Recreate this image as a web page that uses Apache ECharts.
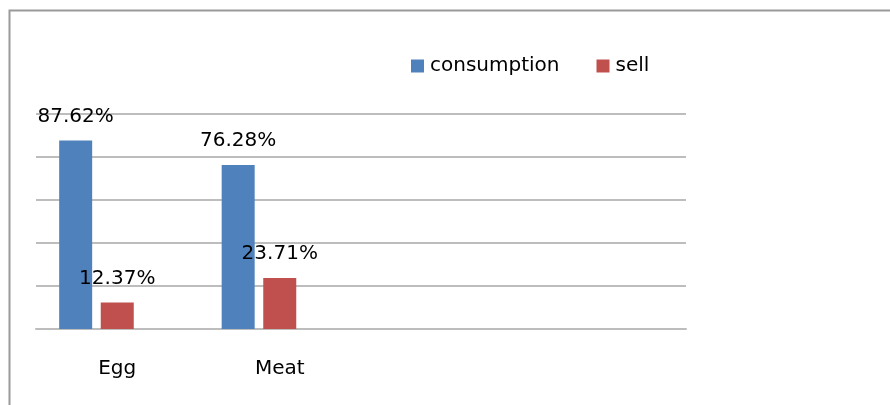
<!DOCTYPE html>
<html>
<head>
<meta charset="utf-8">
<script src="https://cdn.jsdelivr.net/npm/echarts@6/dist/echarts.min.js"></script>
<style>html,body{margin:0;padding:0;background:#fff}#c{width:890px;height:405px}</style>
</head>
<body>
<div id="c"></div>
<script>
const categories = ['Egg', 'Meat', '', ''];
const consumption = [87.62, 76.28, null, null];
const sell = [12.37, 23.71, null, null];
const third = [null, null, null, null];

const FONT = 'DejaVu Sans';
const chart = echarts.init(document.getElementById('c'), null, {renderer: 'canvas'});
const lbl = {
  show: true, position: 'top', distance: 14,
  fontFamily: FONT, fontSize: 20, color: '#000',
  formatter: p => p.value == null ? '' : p.value.toFixed(2) + '%'
};
chart.setOption({
  animation: false,
  backgroundColor: '#fff',
  graphic: [{
    type: 'rect', left: 7, top: 8,
    shape: {width: 900, height: 420},
    style: {fill: 'none', stroke: '#9a9a9a', lineWidth: 2},
    silent: true
  }],
  legend: {
    data: ['consumption', 'sell'],
    left: 411, top: 56, padding: 0,
    itemWidth: 13, itemHeight: 13, itemGap: 37,
    icon: 'rect',
    textStyle: {fontFamily: FONT, fontSize: 20, color: '#000', padding: [0, 0, 0, 1]}
  },
  grid: {left: 36, right: 204, top: 114, bottom: 76},
  xAxis: {
    type: 'category', data: categories,
    axisLine: {lineStyle: {color: '#bdbdbd', width: 2}},
    axisTick: {show: false},
    axisLabel: {fontFamily: FONT, fontSize: 20, color: '#000', margin: 30}
  },
  yAxis: {
    type: 'value', min: 0, max: 100, interval: 20,
    axisLabel: {show: false},
    axisLine: {show: false}, axisTick: {show: false},
    splitLine: {lineStyle: {color: '#bdbdbd', width: 2}}
  },
  series: [
    {name: 'consumption', type: 'bar', data: consumption, barWidth: 33, barGap: '26%',
     itemStyle: {color: '#4F81BD'}, label: lbl},
    {name: 'sell', type: 'bar', data: sell, barWidth: 33, barGap: '26%',
     itemStyle: {color: '#C0504D'}, label: lbl},
    {name: 'other', type: 'bar', data: third, barWidth: 33, barGap: '26%',
     itemStyle: {color: '#9BBB59'}}
  ]
});
</script>
</body>
</html>
